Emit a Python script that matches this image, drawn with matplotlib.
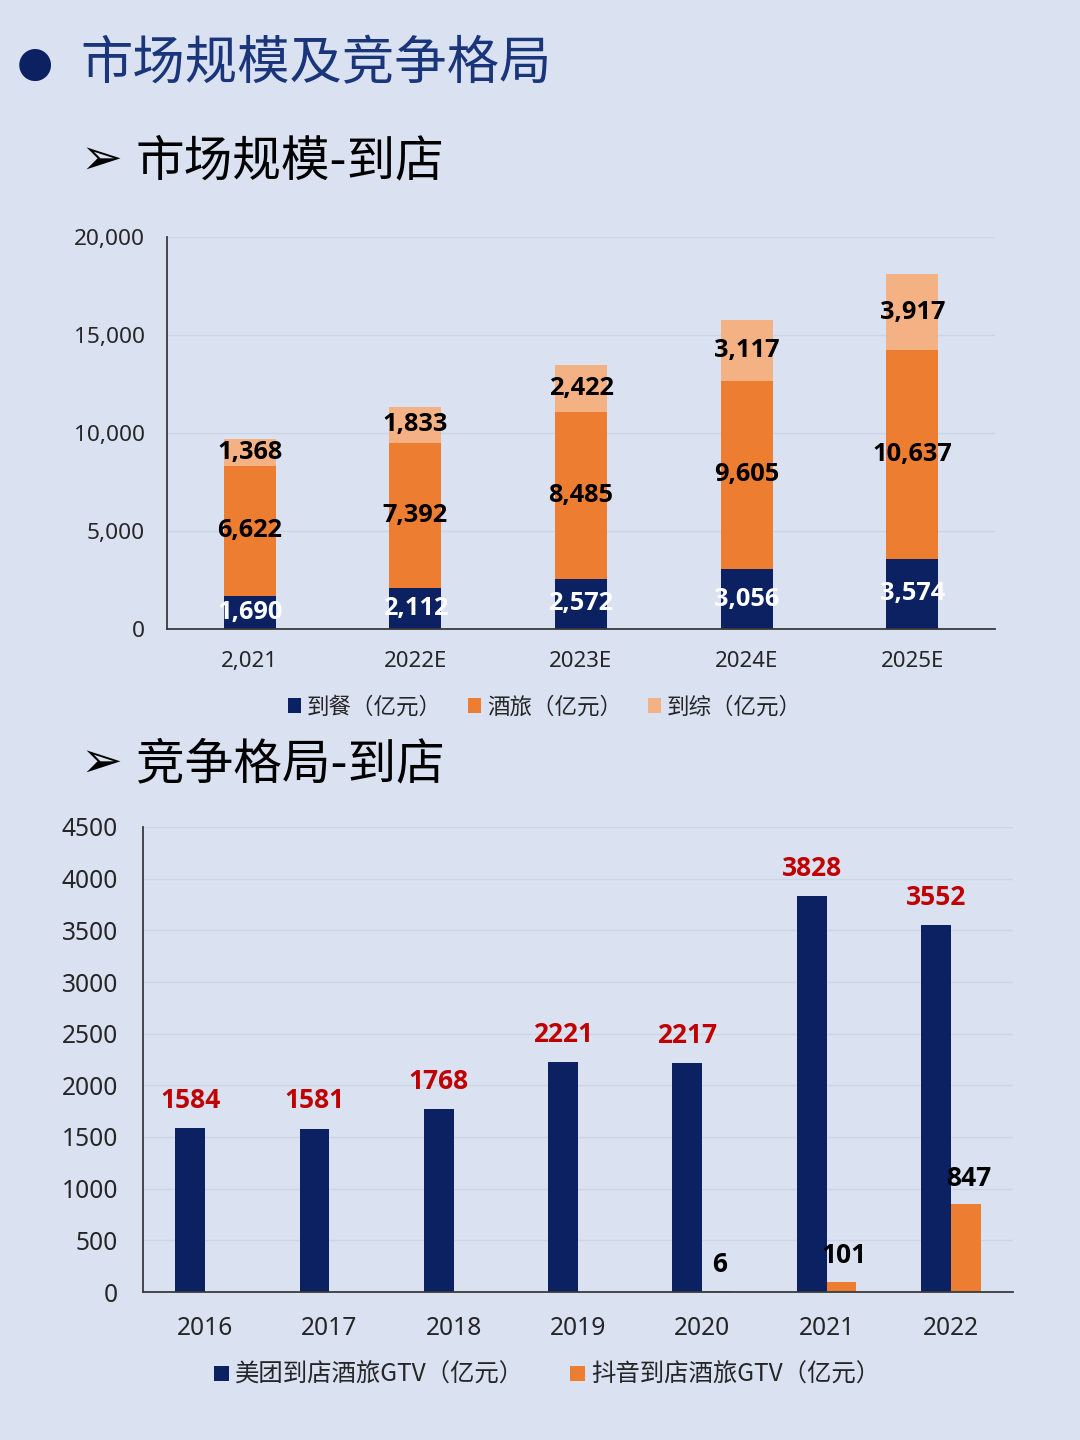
import matplotlib
matplotlib.use("Agg")
import matplotlib.pyplot as plt
from matplotlib.patches import Patch
import numpy as np

# ---------------- data ----------------
top_categories = ["2,021", "2022E", "2023E", "2024E", "2025E"]
daocan = [1690, 2112, 2572, 3056, 3574]
jiulv = [6622, 7392, 8485, 9605, 10637]
daozong = [1368, 1833, 2422, 3117, 3917]
top_series_names = ["到餐（亿元）", "酒旅（亿元）", "到综（亿元）"]
top_yticks = [0, 5000, 10000, 15000, 20000]

bot_categories = ["2016", "2017", "2018", "2019", "2020", "2021", "2022"]
meituan = [1584, 1581, 1768, 2221, 2217, 3828, 3552]
douyin = [None, None, None, None, 6, 101, 847]
bot_series_names = ["美团到店酒旅GTV（亿元）", "抖音到店酒旅GTV（亿元）"]
bot_yticks = [0, 500, 1000, 1500, 2000, 2500, 3000, 3500, 4000, 4500]

# ---------------- style ----------------
BG = "#DAE2F2"
NAVY = "#0B2162"
ORANGE = "#ED7D31"
LIGHT = "#F4B183"
RED = "#C00000"
GRID = "#CCD5E6"
SPINE = "#3A3A3A"
FONT = ["Noto Sans", "Noto Sans CJK SC", "DejaVu Sans"]
BOLD = ["Open Sans", "Liberation Sans", "DejaVu Sans"]
CJK = ["Noto Sans CJK SC", "DejaVu Sans"]
plt.rcParams["font.family"] = FONT

fig = plt.figure(figsize=(10.8, 14.4), dpi=100, facecolor=BG)

# ---------------- headings ----------------
fig.text(35 / 1080, 1 - 64 / 1440, "●", family=["DejaVu Sans"], fontsize=30,
         color="#0B2162", ha="center", va="center")
fig.text(80 / 1080, 1 - 65 / 1440, "市场规模及竞争格局", family=CJK, fontsize=37.7,
         color="#1A3579", ha="left", va="center")
fig.text(101 / 1080, 1 - 160 / 1440, "➢", family=["DejaVu Sans"], fontsize=36,
         color="black", ha="center", va="center")
fig.text(136 / 1080, 1 - 162 / 1440, "市场规模-到店", family=CJK, fontsize=35,
         color="black", ha="left", va="center")
fig.text(101 / 1080, 1 - 763 / 1440, "➢", family=["DejaVu Sans"], fontsize=36,
         color="black", ha="center", va="center")
fig.text(136 / 1080, 1 - 765 / 1440, "竞争格局-到店", family=CJK, fontsize=35,
         color="black", ha="left", va="center")

# ---------------- top chart ----------------
ax1 = fig.add_axes([167 / 1080, 1 - 629 / 1440, 828 / 1080, (629 - 237) / 1440])
ax1.set_facecolor(BG)
x = np.arange(len(top_categories))
w = 0.315
ax1.bar(x, daocan, w, color=NAVY, zorder=3)
ax1.bar(x, jiulv, w, bottom=daocan, color=ORANGE, zorder=3)
bottom3 = [a + b for a, b in zip(daocan, jiulv)]
ax1.bar(x, daozong, w, bottom=bottom3, color=LIGHT, zorder=3)
for i in range(len(x)):
    ax1.text(x[i], daocan[i] / 2, f"{daocan[i]:,}", ha="center", va="center", family=BOLD,
             fontsize=18.3, fontweight="bold", color="white", zorder=4)
    ax1.text(x[i], daocan[i] + jiulv[i] / 2, f"{jiulv[i]:,}", ha="center", va="center", family=BOLD,
             fontsize=18.3, fontweight="bold", color="black", zorder=4)
    ax1.text(x[i], bottom3[i] + daozong[i] / 2, f"{daozong[i]:,}", ha="center", va="center", family=BOLD,
             fontsize=18.3, fontweight="bold", color="black", zorder=4)
ax1.set_xlim(-0.5, len(x) - 0.5)
ax1.set_ylim(0, 20000)
ax1.set_yticks(top_yticks)
ax1.set_yticklabels([f"{v:,}" for v in top_yticks])
ax1.set_xticks(x)
ax1.set_xticklabels(top_categories)
ax1.tick_params(axis="y", length=0, pad=16, labelsize=16.3, labelcolor="#262626")
ax1.tick_params(axis="x", length=0, pad=16, labelsize=16, labelcolor="#262626")
ax1.grid(axis="y", color=GRID, linewidth=1, zorder=0)
for s in ["top", "right"]:
    ax1.spines[s].set_visible(False)
for s in ["left", "bottom"]:
    ax1.spines[s].set_color(SPINE)
    ax1.spines[s].set_linewidth(1.3)
    ax1.spines[s].set_zorder(5)

handles1 = [Patch(facecolor=c, edgecolor="none") for c in (NAVY, ORANGE, LIGHT)]
fig.legend(handles1, top_series_names, loc="center", bbox_to_anchor=(545 / 1080, 1 - 707 / 1440),
           ncol=3, frameon=False, prop={"family": CJK, "size": 16.2},
           handlelength=0.6, handleheight=0.6, handletextpad=0.25, columnspacing=1.15,
           labelcolor="#262626")

# ---------------- bottom chart ----------------
ax2 = fig.add_axes([143 / 1080, 1 - 1292 / 1440, 870 / 1080, (1292 - 827) / 1440])
ax2.set_facecolor(BG)
x2 = np.arange(len(bot_categories))
bw = 0.24
ax2.bar(x2 - bw / 2, meituan, bw, color=NAVY, zorder=3)
dy_x = [xi + bw / 2 for xi, v in zip(x2, douyin) if v is not None]
dy_v = [v for v in douyin if v is not None]
ax2.bar(dy_x, dy_v, bw, color=ORANGE, zorder=3)
for xi, v in zip(x2, meituan):
    ax2.annotate(str(v), (xi - bw / 2, v), xytext=(0, 20), textcoords="offset points", family=BOLD,
                 ha="center", va="center", fontsize=19, fontweight="bold", color=RED, zorder=4)
for xi, v in zip(dy_x, dy_v):
    ax2.annotate(str(v), (xi, v), xytext=(2, 19), textcoords="offset points", family=BOLD,
                 ha="center", va="center", fontsize=19, fontweight="bold", color="black", zorder=4)
ax2.set_xlim(-0.5, len(x2) - 0.5)
ax2.set_ylim(0, 4500)
ax2.set_yticks(bot_yticks)
ax2.set_yticklabels([str(v) for v in bot_yticks])
ax2.set_xticks(x2)
ax2.set_xticklabels(bot_categories)
ax2.tick_params(axis="y", length=0, pad=18, labelsize=17.7, labelcolor="#262626")
ax2.tick_params(axis="x", length=0, pad=17, labelsize=17.7, labelcolor="#262626")
ax2.grid(axis="y", color=GRID, linewidth=1, zorder=0)
for s in ["top", "right"]:
    ax2.spines[s].set_visible(False)
for s in ["left", "bottom"]:
    ax2.spines[s].set_color(SPINE)
    ax2.spines[s].set_linewidth(1.3)
    ax2.spines[s].set_zorder(5)

handles2 = [Patch(facecolor=c, edgecolor="none") for c in (NAVY, ORANGE)]
fig.legend(handles2, bot_series_names, loc="center", bbox_to_anchor=(547 / 1080, 1 - 1375 / 1440),
           ncol=2, frameon=False, prop={"family": CJK, "size": 17.6},
           handlelength=0.6, handleheight=0.6, handletextpad=0.25, columnspacing=1.9,
           labelcolor="#262626")

fig.savefig("out.png", dpi=100, facecolor=BG)
